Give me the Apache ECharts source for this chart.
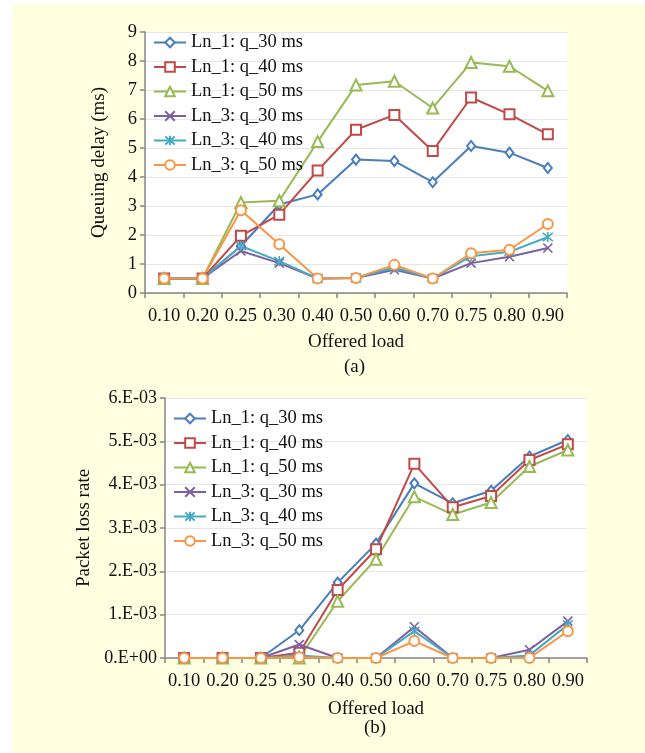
<!DOCTYPE html>
<html><head><meta charset="utf-8">
<script src="https://cdn.jsdelivr.net/npm/echarts@6/dist/echarts.min.js"></script>
<style>
html,body{margin:0;padding:0;background:#fff;}
#panel{position:absolute;left:12px;top:4px;width:633px;height:749px;background:#ffffe1;}
#chart{position:absolute;left:0;top:0;width:645px;height:753px;}
</style></head><body><div id="panel"></div><div id="chart"></div>
<script>
// ---- data ----
const categories = ['0.10','0.20','0.25','0.30','0.40','0.50','0.60','0.70','0.75','0.80','0.90'];
const seriesNames = ['Ln_1: q_30 ms','Ln_1: q_40 ms','Ln_1: q_50 ms','Ln_3: q_30 ms','Ln_3: q_40 ms','Ln_3: q_50 ms'];

// (a) Queuing delay (ms)
const delayLn1q30 = [0.5,0.5,1.62,3.05,3.40,4.60,4.55,3.82,5.07,4.84,4.31];
const delayLn1q40 = [0.5,0.5,1.97,2.70,4.22,5.63,6.14,4.90,6.74,6.16,5.47];
const delayLn1q50 = [0.5,0.5,3.12,3.18,5.22,7.17,7.30,6.38,7.95,7.82,6.97];
const delayLn3q30 = [0.5,0.5,1.45,1.03,0.5,0.52,0.80,0.5,1.03,1.25,1.55];
const delayLn3q40 = [0.5,0.5,1.62,1.10,0.5,0.52,0.88,0.5,1.27,1.42,1.93];
const delayLn3q50 = [0.5,0.5,2.85,1.68,0.5,0.52,0.97,0.5,1.37,1.49,2.38];

// (b) Packet loss rate
const lossLn1q30 = [0,0,0,0.64e-3,1.74e-3,2.64e-3,4.03e-3,3.57e-3,3.86e-3,4.65e-3,5.03e-3];
const lossLn1q40 = [0,0,0,0.12e-3,1.57e-3,2.51e-3,4.48e-3,3.48e-3,3.74e-3,4.57e-3,4.93e-3];
const lossLn1q50 = [0,0,0,0,1.31e-3,2.28e-3,3.72e-3,3.31e-3,3.59e-3,4.42e-3,4.80e-3];
const lossLn3q30 = [0,0,0,0.31e-3,0,0,0.72e-3,0,0,0.19e-3,0.85e-3];
const lossLn3q40 = [0,0,0,0.06e-3,0,0,0.62e-3,0,0,0.06e-3,0.77e-3];
const lossLn3q50 = [0,0,0,0.02e-3,0,0,0.39e-3,0,0,0,0.62e-3];

const lossTickLabels = ['0.E+00','1.E-03','2.E-03','3.E-03','4.E-03','5.E-03','6.E-03'];

const delaySets = [delayLn1q30,delayLn1q40,delayLn1q50,delayLn3q30,delayLn3q40,delayLn3q50];
const lossSets = [lossLn1q30,lossLn1q40,lossLn1q50,lossLn3q30,lossLn3q40,lossLn3q50];

// ---- styles ----
const colors = ['#4a7ebb','#be4b48','#98b954','#7d60a0','#46aac5','#f79646'];
const symbols = ['emptyDiamond','emptyRect','emptyTriangle',
  'path://M0,0L10,10M10,0L0,10',
  'path://M0,0L10,10M10,0L0,10M5,-1L5,11',
  'emptyCircle'];
const symbolSizes = [[8,10],10,11,9,10,10];

const FONT = 'Liberation Serif';
const TXT = '#111';

function makeSeries(sets, idx) {
  return sets.map((d, i) => ({
    name: seriesNames[i],
    type: 'line',
    xAxisIndex: idx, yAxisIndex: idx,
    data: d,
    symbol: symbols[i],
    symbolSize: symbolSizes[i],
    showAllSymbol: true,
    clip: false,
    color: colors[i],
    lineStyle: {color: colors[i], width: 2},
    itemStyle: {color: colors[i], borderColor: colors[i], borderWidth: 1.6},
    emphasis: {disabled: true},
    animation: false
  }));
}

function xAxis(idx, gap) {
  return {
    type: 'category', gridIndex: idx, data: categories, boundaryGap: true,
    name: 'Offered load', nameLocation: 'middle', nameGap: gap,
    nameTextStyle: {fontFamily: FONT, fontSize: 19, color: TXT},
    axisLine: {lineStyle: {color: '#868686', width: 1.5}},
    axisTick: {show: true, interval: 0, length: 5, lineStyle: {color: '#868686', width: 1.5}},
    axisLabel: {interval: 0, fontFamily: FONT, fontSize: 18.5, color: TXT, margin: 14, hideOverlap: false},
    splitLine: {show: false}
  };
}

function legend(idx, left, top) {
  return {
    orient: 'vertical', left: left, top: top, padding: 0,
    itemWidth: 32, itemHeight: 12, itemGap: 5.5,
    textStyle: {fontFamily: FONT, fontSize: 18.5, color: TXT, lineHeight: 18.5},
    data: seriesNames,
    selectedMode: false
  };
}

const chart = echarts.init(document.getElementById('chart'), null, {renderer: 'canvas'});
chart.setOption({
  animation: false,
  backgroundColor: 'transparent',
  grid: [
    {left: 145, top: 32, width: 422, height: 261, show: true, backgroundColor: '#fff', borderWidth: 0},
    {left: 165, top: 398, width: 422, height: 260, show: true, backgroundColor: '#fff', borderWidth: 0}
  ],
  xAxis: [xAxis(0, 40), xAxis(1, 42)],
  yAxis: [
    {type: 'value', gridIndex: 0, min: 0, max: 9, interval: 1,
     name: 'Queuing delay (ms)', nameLocation: 'middle', nameGap: 36,
     nameTextStyle: {fontFamily: FONT, fontSize: 19, color: TXT},
     axisLine: {show: true, lineStyle: {color: '#868686', width: 1.5}},
     axisTick: {show: true, length: 5, lineStyle: {color: '#868686', width: 1.5}},
     axisLabel: {fontFamily: FONT, fontSize: 18.5, color: TXT, margin: 8},
     splitLine: {show: true, lineStyle: {color: '#e6e6e6', width: 1.2}}},
    {type: 'value', gridIndex: 1, min: 0, max: 0.006, interval: 0.001,
     name: 'Packet loss rate', nameLocation: 'middle', nameGap: 71,
     nameTextStyle: {fontFamily: FONT, fontSize: 19, color: TXT},
     axisLine: {show: true, lineStyle: {color: '#868686', width: 1.5}},
     axisTick: {show: true, length: 5, lineStyle: {color: '#868686', width: 1.5}},
     axisLabel: {fontFamily: FONT, fontSize: 18, color: TXT, margin: 8,
       formatter: v => lossTickLabels[Math.round(v / 0.001)]},
     splitLine: {show: true, lineStyle: {color: '#e6e6e6', width: 1.2}}}
  ],
  legend: [legend(0, 153, 33), legend(1, 173, 409)],
  graphic: [
    {type: 'text', left: 356 - 12, top: 358, style: {text: '(a)', font: '19px "Liberation Serif"', fill: TXT}},
    {type: 'text', left: 376 - 12, top: 719, style: {text: '(b)', font: '19px "Liberation Serif"', fill: TXT}}
  ],
  series: makeSeries(delaySets, 0).concat(makeSeries(lossSets, 1))
});
</script></body></html>
